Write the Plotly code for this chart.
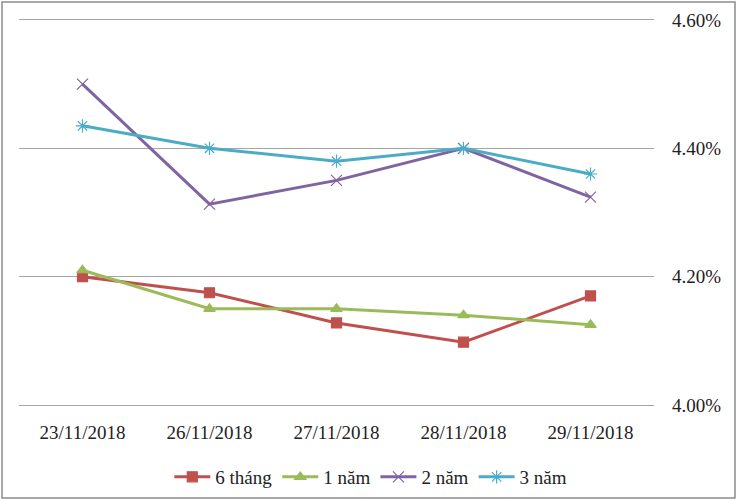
import plotly.graph_objects as go

dates = ["23/11/2018", "26/11/2018", "27/11/2018", "28/11/2018", "29/11/2018"]
s6m = [4.20, 4.175, 4.128, 4.098, 4.17]
s1y = [4.21, 4.15, 4.15, 4.14, 4.125]
s2y = [4.50, 4.313, 4.35, 4.40, 4.324]
s3y = [4.435, 4.40, 4.38, 4.40, 4.36]
names = ["6 tháng", "1 năm", "2 năm", "3 năm"]
colors = ["#C0504D", "#9BBB59", "#8064A2", "#4BACC6"]
symbols = ["square", "triangle-up", "x-thin-open", "asterisk-open"]
sizes = [10, 10, 11, 11]
y_ticks = [4.00, 4.20, 4.40, 4.60]

fig = go.Figure()
for name, vals, c, sym, sz in zip(names, [s6m, s1y, s2y, s3y], colors, symbols, sizes):
    fig.add_trace(go.Scatter(
        x=list(range(len(dates))), y=vals, name=name, mode="lines+markers",
        line=dict(color=c, width=3),
        marker=dict(symbol=sym, size=sz, color=c, line=dict(color=c, width=1.2)),
    ))

font = "Liberation Serif, Times New Roman, serif"
# plot area: x 19..654 ; 4.60 at y=20, 4.00 at y=405 (range padded by 0.003 -> ~2px)
fig.update_layout(
    width=738, height=501,
    margin=dict(l=19, r=84, t=18, b=94, autoexpand=False),
    paper_bgcolor="white", plot_bgcolor="white",
    font=dict(family=font, size=19, color="#222222"),
    showlegend=True,
    legend=dict(orientation="h", x=0.554, xanchor="center", y=-0.18, yanchor="middle",
                font=dict(family=font, size=19), itemwidth=36, traceorder="normal"),
    xaxis=dict(tickmode="array", tickvals=list(range(len(dates))), ticktext=dates,
               range=[-0.5, 4.5], showgrid=False, zeroline=False, showline=False,
               ticks="", ticklabelstandoff=12, automargin=False),
    yaxis=dict(side="right", range=[3.997, 4.603], tickvals=y_ticks,
               ticktext=[f"{v:.2f}%" for v in y_ticks],
               showgrid=True, gridcolor="#A6A6A6", gridwidth=1, zeroline=False,
               showline=False, ticks="", ticklabelstandoff=17, automargin=False),
    shapes=[dict(type="rect", xref="paper", yref="paper",
                 x0=-17/635, x1=(735-19)/635, y0=-(498-407)/389, y1=1 + 16/389,
                 line=dict(color="#8C8C8C", width=1.5), layer="above")],
)
fig.write_html("out.html", config={"displayModeBar": False},
               post_script="document.body.style.margin='0';")
